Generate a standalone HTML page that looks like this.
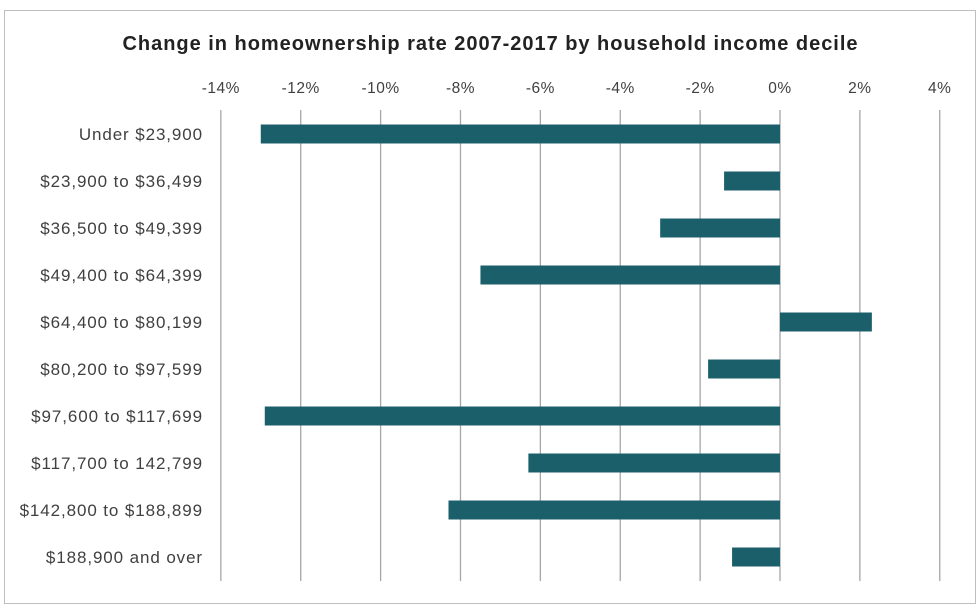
<!DOCTYPE html>
<html><head><meta charset="utf-8"><style>
body{margin:0;background:#fff;width:980px;height:609px;overflow:hidden}
svg{display:block;font-family:"Liberation Sans",sans-serif}
</style></head><body>
<svg id="c" width="980" height="609">
<rect x="4.5" y="10.5" width="971" height="593" fill="#fff" stroke="#bfbfbf"/>
<text x="490" y="50" text-anchor="middle" font-size="20" font-weight="bold" fill="#222" textLength="735" lengthAdjust="spacing">Change in homeownership rate 2007-2017 by household income decile</text>
</svg>
<script>
const categories=["Under $23,900","$23,900 to $36,499","$36,500 to $49,399","$49,400 to $64,399","$64,400 to $80,199","$80,200 to $97,599","$97,600 to $117,699","$117,700 to 142,799","$142,800 to $188,899","$188,900 and over"];
const values=[-13.0,-1.4,-3.0,-7.5,2.3,-1.8,-12.9,-6.3,-8.3,-1.2];
const ticks=[-14,-12,-10,-8,-6,-4,-2,0,2,4];
const svg=document.getElementById('c');
const NS='http://www.w3.org/2000/svg';
const x=v=>780+(v)*39.94;
const y=i=>134+i*47;
function mk(t,a){const e=document.createElementNS(NS,t);for(const k in a)e.setAttribute(k,a[k]);svg.appendChild(e);return e;}
ticks.forEach(t=>{
 const l=mk('line',{x1:x(t),x2:x(t),y1:110,y2:581,stroke:'#a6a6a6','stroke-width':1.3});
 
 
 const tx=mk('text',{x:x(t),y:93,'text-anchor':'middle','font-size':15.5,fill:'#404040','letter-spacing':0.5});
 tx.textContent=t+'%';
 
 
});
categories.forEach((c,i)=>{
 const v=values[i];
 const r=mk('rect',{x:Math.min(x(0),x(v)),y:y(i)-9.5,width:Math.abs(x(v)-x(0)),height:19,fill:'#1b5f6b'});
 
 
 const tx=mk('text',{x:203,y:y(i)+6,'text-anchor':'end','font-size':17,fill:'#404040','letter-spacing':0.9});
 tx.textContent=c;
 
 
});
</script>
</body></html>
